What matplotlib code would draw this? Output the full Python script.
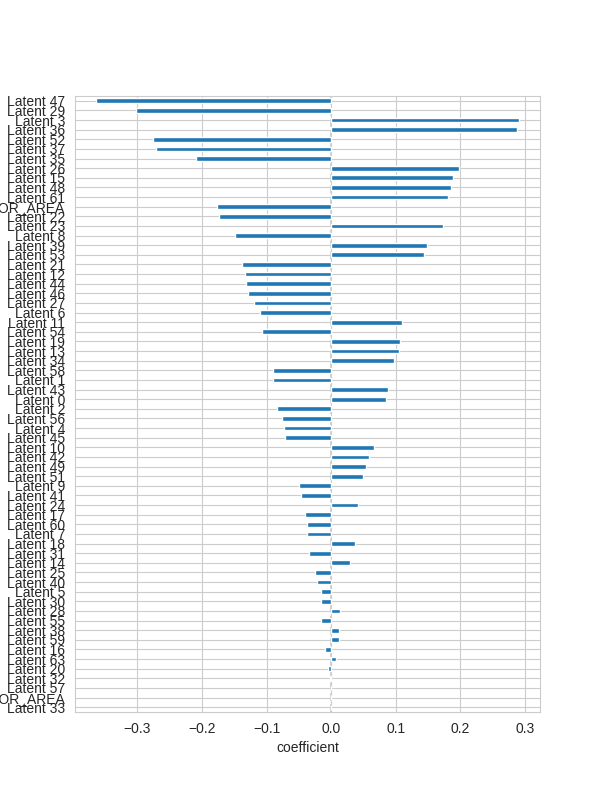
'''
Horizontal bar chart of model coefficients, sorted by magnitude
'''

import pandas as pd
import seaborn as sns
import matplotlib
matplotlib.use('Agg')
import matplotlib.pyplot as plt


# features from top to bottom of the chart
features = ['Latent 47', 'Latent 29', 'Latent 3', 'Latent 36', 'Latent 52', 'Latent 37',
            'Latent 35', 'Latent 26', 'Latent 15', 'Latent 48', 'Latent 61', 'FLOOR_AREA',
            'Latent 22', 'Latent 23', 'Latent 8', 'Latent 39', 'Latent 53', 'Latent 21',
            'Latent 12', 'Latent 44', 'Latent 46', 'Latent 27', 'Latent 6', 'Latent 11',
            'Latent 54', 'Latent 19', 'Latent 13', 'Latent 34', 'Latent 58', 'Latent 1',
            'Latent 43', 'Latent 0', 'Latent 2', 'Latent 56', 'Latent 4', 'Latent 45',
            'Latent 10', 'Latent 42', 'Latent 49', 'Latent 51', 'Latent 9', 'Latent 41',
            'Latent 24', 'Latent 17', 'Latent 60', 'Latent 7', 'Latent 18', 'Latent 31',
            'Latent 14', 'Latent 25', 'Latent 40', 'Latent 5', 'Latent 30', 'Latent 28',
            'Latent 55', 'Latent 38', 'Latent 59', 'Latent 16', 'Latent 63', 'Latent 20',
            'Latent 32', 'Latent 57', 'INTERIOR_AREA', 'Latent 33']

coefficients = [-0.364, -0.303, 0.291, 0.288, -0.276, -0.272,
                -0.210, 0.198, 0.189, 0.186, 0.181, -0.177,
                -0.174, 0.173, -0.149, 0.149, 0.144, -0.138,
                -0.134, -0.132, -0.129, -0.120, -0.110, 0.110,
                -0.107, 0.107, 0.106, 0.097, -0.090, -0.090,
                0.088, 0.085, -0.084, -0.076, -0.073, -0.071,
                0.066, 0.059, 0.054, 0.049, -0.050, -0.047,
                0.041, -0.040, -0.037, -0.037, 0.037, -0.034,
                0.029, -0.025, -0.022, -0.016, -0.016, 0.014,
                -0.016, 0.013, 0.012, -0.009, 0.007, -0.005,
                -0.002, 0.0005, 0.0, 0.0]


def main():
    sns.set_style('whitegrid')
    plt.rcParams['font.family'] = ['Liberation Sans', 'DejaVu Sans']

    # pandas draws the first row at the bottom, so reverse
    coef = pd.Series(coefficients[::-1], index=features[::-1])

    fig = plt.figure(figsize=(6, 8), dpi=100)
    ax = fig.add_subplot(111)
    coef.plot.barh(ax=ax, color='#1f77b4', edgecolor='white', linewidth=1)
    ax.axvline(0, color='#d3d3d3', linestyle='--', linewidth=1.5, zorder=0.5)
    ax.set_xlabel('coefficient')
    fig.savefig('out.png', dpi=100)


if __name__ == '__main__':
    main()
